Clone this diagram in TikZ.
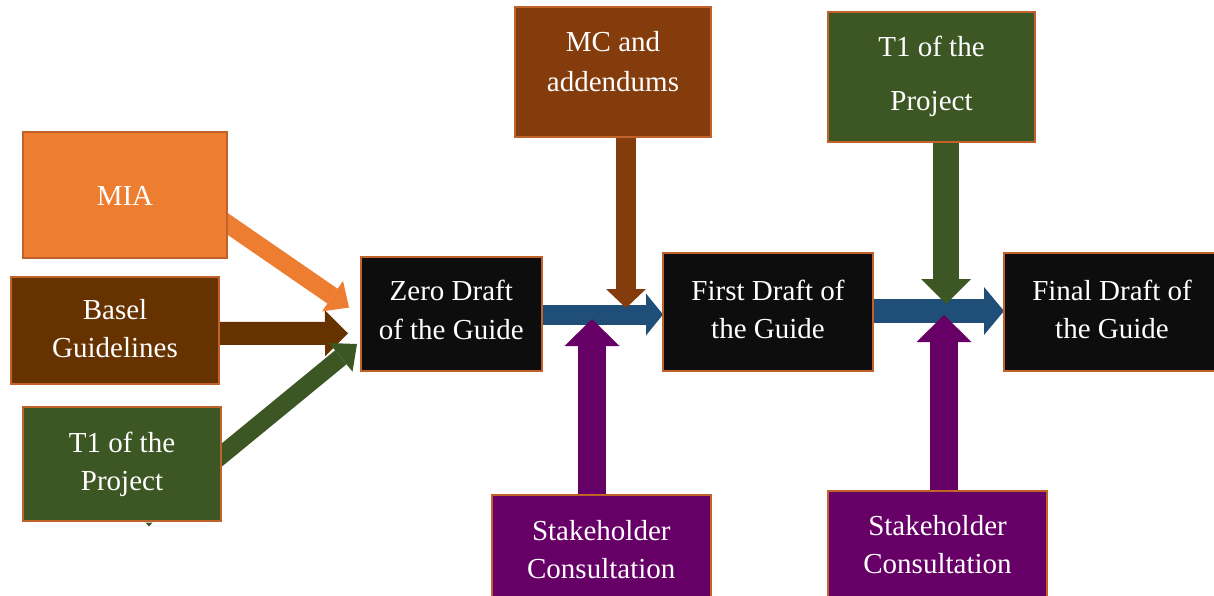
\documentclass[tikz,border=0pt]{standalone}
\usepackage{fontspec}
\setmainfont{Liberation Serif}
\usetikzlibrary{arrows.meta,calc}
\definecolor{miaC}{HTML}{ED7D31}
\definecolor{baselC}{HTML}{663300}
\definecolor{tgreen}{HTML}{3C5724}
\definecolor{mcC}{HTML}{843C0C}
\definecolor{purp}{HTML}{660066}
\definecolor{blueC}{HTML}{1F4E79}
\definecolor{blackC}{HTML}{0D0D0D}
\definecolor{bord}{HTML}{C0622A}
\begin{document}
\begin{tikzpicture}[x=1pt,y=-1pt,
  box/.style={draw=bord, line width=2pt, inner sep=0pt, rectangle},
  txt/.style={text=white, align=center, inner sep=0pt, font=\fontsize{29}{#1}\selectfont},
  txt/.default=38.4,
  blk/.style n args={3}{line width=#1, line cap=butt, -{Triangle[width=#2,length=#3,line width=0pt]}}]
\useasboundingbox (0,0) rectangle (1214,596);

% boxes (geometry only; drawn later on top of arrows)
\path
  (125,195)    coordinate (miaC0)
  (115,330.5)  coordinate (baselC0);
\node[box, fill=miaC,   minimum width=202pt, minimum height=124pt] (mia)   at (125,195) {};
\node[box, fill=baselC, minimum width=206pt, minimum height=105pt] (basel) at (115,330.5) {};
\node[box, fill=tgreen, minimum width=196pt, minimum height=112pt] (t1l)   at (122,464) {};
\node[box, fill=blackC, minimum width=179.5pt, minimum height=111.5pt] (zero) at (451.25,313.75) {};
\node[box, fill=mcC,    minimum width=194pt, minimum height=128pt] (mc)    at (613,72) {};
\node[box, fill=blackC, minimum width=208pt, minimum height=116.5pt] (first) at (768,311.75) {};
\node[box, fill=tgreen, minimum width=205pt, minimum height=128pt] (t1t)   at (931.5,77) {};
\node[box, fill=blackC, minimum width=214pt, minimum height=115.5pt] (final) at (1112,311.75) {};
\node[box, fill=purp,   minimum width=217.5pt, minimum height=108pt] (stake1) at (601.25,550) {};
\node[box, fill=purp,   minimum width=217pt, minimum height=108pt] (stake2) at (937.5,546) {};

% arrows
\draw[blk={20pt}{42pt}{17pt}, blueC] ($(zero.east)+(0,0.75)$) -- ($(first.west)+(0,2.75)$);
\draw[blk={24pt}{48pt}{20pt}, blueC] ($(first.east)+(0,-0.75)$) -- ($(final.west)+(0,-0.75)$);
\draw[blk={23pt}{46pt}{23pt}, baselC] ($(basel.east)+(0,3)$) -- ($(zero.west)+(-12.5,19.5)$);
\draw[blk={18pt}{37pt}{20pt}, miaC] ($(mia.east)+(-14,18.8)$) -- ($(zero.west)+(-11.5,-6.25)$);
\draw[blk={18pt}{37pt}{21pt}, tgreen] ($(t1l.east)+(-12,1.5)$) -- ($(zero.west)+(-3.5,30.25)$);
\draw[blk={20pt}{40pt}{19pt}, mcC] ($(mc.south)+(13,0)$) -- ($(mc.south)+(13,171)$);
\draw[blk={28pt}{55pt}{27pt}, purp] ($(stake1.north)+(-9.25,0)$) -- ($(stake1.north)+(-9.25,-176)$);
\draw[blk={26pt}{50pt}{25pt}, tgreen] ($(t1t.south)+(14.5,0)$) -- ($(t1t.south)+(14.5,162)$);
\draw[blk={28pt}{55pt}{27pt}, purp] ($(stake2.north)+(6.5,0)$) -- ($(stake2.north)+(6.5,-176)$);

% redraw boxes on top of arrow tails
\foreach \n/\c in {mia/miaC, basel/baselC, t1l/tgreen, zero/blackC, mc/mcC, first/blackC, t1t/tgreen, final/blackC, stake1/purp, stake2/purp}{
  \draw[draw=bord, line width=2pt, fill=\c] (\n.north west) rectangle (\n.south east);
}
\fill[tgreen] ($(t1l.south)+(23.5,1.5)$) -- ++(7,0) -- ++(-3.5,4) -- cycle;

% texts
\node[txt] (miaT)   at (125,196.4)  {MIA};
\node[txt] (baselT) at (115,328.6)  {Basel\\Guidelines};
\node[txt=38.3] (t1lT) at (122,464.1) {T1 of the\\Project};
\node[txt=38.6] (zeroT) at (451.25,310.1) {Zero Draft\\of the Guide};
\node[txt=40] (mcT) at (613,61.8) {MC and\\addendums};
\node[txt=38.3] (firstT) at (768,309.3) {First Draft of\\the Guide};
\node[txt=54] (t1tT) at (931.5,76.3) {T1 of the\\Project};
\node[txt=38.3] (finalT) at (1112,309.3) {Final Draft of\\the Guide};
\node[txt=38.3] (stake1T) at (601.25,549.3) {Stakeholder\\Consultation};
\node[txt=38.3] (stake2T) at (937.5,544.3) {Stakeholder\\Consultation};
\end{tikzpicture}
\end{document}
